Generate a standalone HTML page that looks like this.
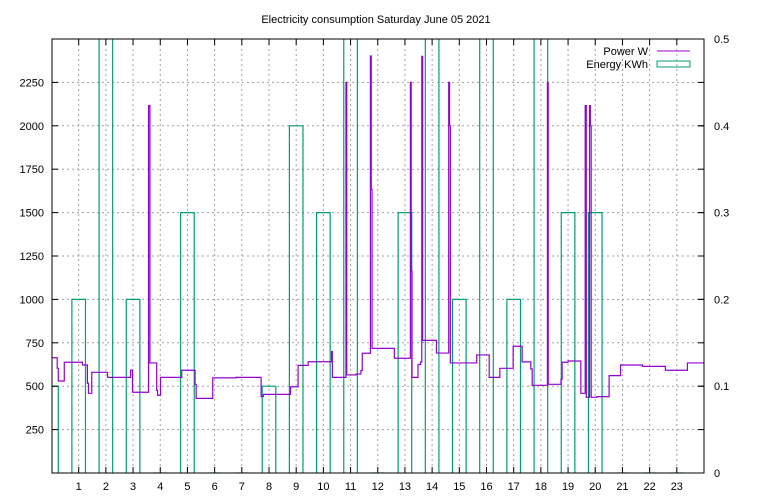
<!DOCTYPE html>
<html><head><meta charset="utf-8"><style>
body{margin:0;background:#fff}
svg{display:block;font-family:"Liberation Sans","DejaVu Sans",sans-serif;font-size:11px}
</style></head><body>
<svg id="chart" width="768" height="500" viewBox="0 0 768 500">
<rect width="768" height="500" fill="#fff"/>
<text x="376" y="23" text-anchor="middle">Electricity consumption Saturday June 05 2021</text>
<defs><clipPath id="clip"><rect x="52" y="39" width="652" height="434"/></clipPath></defs>
<g id="grid"></g>
<g id="energy" clip-path="url(#clip)"></g>
<g id="power" clip-path="url(#clip)"></g>
<rect x="52" y="39" width="652" height="434" fill="none" stroke="#000" stroke-width="1"/>
<g id="axes"></g>
<g>
<text x="648" y="55" text-anchor="end">Power W</text>
<line x1="657" y1="51" x2="690" y2="51" stroke="#9400d3" stroke-width="1"/>
<text x="648" y="68" text-anchor="end">Energy KWh</text>
<rect x="657" y="61" width="33" height="6" fill="none" stroke="#009e73" stroke-width="1"/>
</g>
</svg>
<script>
const xTicks = [1,2,3,4,5,6,7,8,9,10,11,12,13,14,15,16,17,18,19,20,21,22,23];
const yTicks = [250,500,750,1000,1250,1500,1750,2000,2250];
const y2Ticks = [0,0.1,0.2,0.3,0.4,0.5];
const y2Labels = ["0","0.1","0.2","0.3","0.4","0.5"];
const energyHours = [0,1,2,3,4,5,6,7,8,9,10,11,12,13,14,15,16,17,18,19,20,21,22,23];
const energyKWh = [0.1,0.2,0.6,0.2,0,0.3,0,0,0.1,0.4,0.3,0.6,0,0.3,0.6,0.2,0.6,0.2,0.6,0.3,0.3,0,0,0];
const powerHours = [0,0.21,0.25,0.47,1.14,1.32,1.36,1.48,2.06,2.91,2.98,3.57,3.62,3.87,3.90,4.01,4.79,5.28,5.32,5.93,6.78,7.71,7.79,8.79,9.07,9.44,10.3,10.33,10.83,10.86,11.2,11.38,11.43,11.73,11.76,11.79,12.61,13.2,13.23,13.26,13.48,13.58,13.62,13.65,14.16,14.61,14.64,14.67,15.64,16.1,16.49,16.98,17.31,17.63,17.68,18.24,18.27,18.74,18.78,19.0,19.47,19.63,19.67,19.79,19.82,19.85,20.06,20.51,20.93,21.74,22.58,23.39];
const powerWatts = [664,603,530,638,622,517,459,580,551,592,465,2116,634,476,448,551,592,511,430,548,551,440,453,497,620,641,700,551,2250,565,570,590,690,2402,1634,718,661,2250,1163,551,625,640,2400,764,691,2250,2000,634,680,551,603,730,640,600,505,2250,511,540,638,645,459,2116,436,2116,2000,436,440,561,622,614,592,634];
const X0=52,X1=704,Y0=473,Y1=39;
const xs=h=>51.5+h*(X1-51.5)/24;
const ys=w=>Y0-w*(Y0-Y1)/2500;
const y2s=v=>Y0-v*(Y0-Y1)/0.5;
const NS='http://www.w3.org/2000/svg';
function mk(t,a,p){const e=document.createElementNS(NS,t);for(const k in a)e.setAttribute(k,a[k]);p.appendChild(e);return e;}
const grid=document.getElementById('grid'),axes=document.getElementById('axes');
xTicks.forEach(h=>{const x=xs(h);
 const g=mk('line',{x1:x,y1:Y1,x2:x,y2:Y0,stroke:'#a0a0a0','stroke-dasharray':'2,3','stroke-width':1},grid);
 
 const t1=mk('line',{x1:x,y1:Y0,x2:x,y2:Y0-6,stroke:'#000'},axes);
 
 const t2=mk('line',{x1:x,y1:Y1,x2:x,y2:Y1+6,stroke:'#000'},axes);
 
 const l=mk('text',{x:x,y:490,'text-anchor':'middle'},axes);l.textContent=h;
 
});
yTicks.forEach(w=>{const y=ys(w);
 const g=mk('line',{x1:X0,y1:y,x2:X1,y2:y,stroke:'#a0a0a0','stroke-dasharray':'2,3','stroke-width':1},grid);
 
 const t1=mk('line',{x1:X0,y1:y,x2:X0+6,y2:y,stroke:'#000'},axes);
 
 const t3=mk('line',{x1:X1,y1:y,x2:X1-6,y2:y,stroke:'#000'},axes);
 
 const l=mk('text',{x:44,y:y+4,'text-anchor':'end'},axes);l.textContent=w;
 
});
y2Ticks.forEach((v,i)=>{const y=y2s(v);
 const t=mk('line',{x1:X1,y1:y,x2:X1-6,y2:y,stroke:'#000'},axes);
 
 const l=mk('text',{x:714,y:y+4},axes);l.textContent=y2Labels[i];
 
});
const en=document.getElementById('energy');
energyHours.forEach((h,i)=>{const v=energyKWh[i];const xa=xs(h-0.25),xb=xs(h+0.25),y=y2s(v);
 const r=mk('path',{d:`M${xa},${Y0}V${y}H${xb}V${Y0}`,fill:'none',stroke:'#009e73','stroke-width':1.2},en);
 
});
let d='';
powerHours.forEach((h,i)=>{const x=xs(h),y=ys(powerWatts[i]);d+=(i?`H${x}V${y}`:`M${x},${y}`);});
d+=`H${xs(24)}`;
const p=mk('path',{d:d,fill:'none',stroke:'#9400d3','stroke-width':1.2},document.getElementById('power'));

</script>
</body></html>
